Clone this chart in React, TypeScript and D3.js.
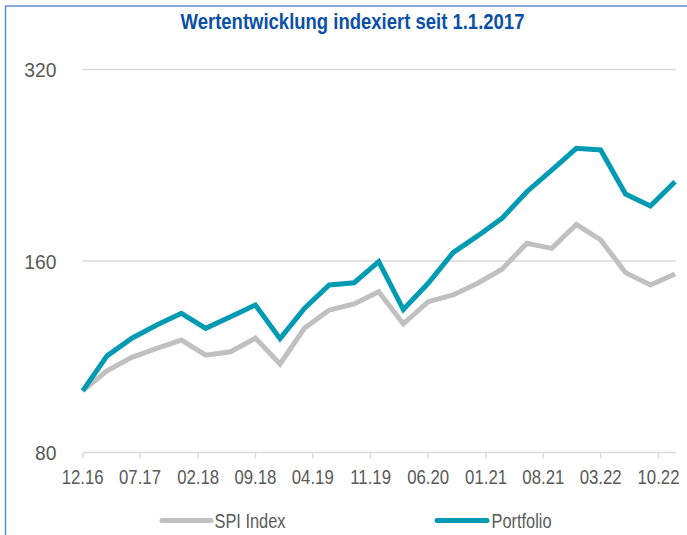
import React from "react";
import * as d3 from "d3";

const dates: string[] = [
  "2016-12", "2017-03", "2017-06", "2017-09", "2017-12", "2018-03", "2018-06", "2018-09",
  "2018-12", "2019-03", "2019-06", "2019-09", "2019-12", "2020-03", "2020-06", "2020-09",
  "2020-12", "2021-03", "2021-06", "2021-09", "2021-12", "2022-03", "2022-06", "2022-09", "2022-12",
];
const spiIndex: number[] = [
  100, 107.5, 112.9, 116.6, 120.2, 113.8, 115.2, 121, 110.2, 125.4, 134, 137, 143.2, 127.4,
  138.1, 141.5, 147.6, 155.3, 170.6, 167.5, 182.7, 172.7, 153.4, 146.7, 152.6,
];
const portfolio: number[] = [
  100, 113.5, 121, 126.9, 132.4, 125.4, 130.8, 136.4, 120.8, 134.8, 146.7, 147.9, 159.6, 134.3,
  147.6, 164.9, 175.2, 186.7, 205.6, 222.4, 240.6, 239.1, 203.9, 195.2, 213.2,
];
const yTicks: number[] = [80, 160, 320];
const xTickDates: string[] = [
  "2016-12", "2017-07", "2018-02", "2018-09", "2019-04", "2019-11", "2020-06",
  "2021-01", "2021-08", "2022-03", "2022-10",
];
const title = "Wertentwicklung indexiert seit 1.1.2017";
const seriesNames = ["SPI Index", "Portfolio"];

const parse = d3.timeParse("%Y-%m");
const fmt = d3.timeFormat("%m.%y");
const font = "'Liberation Sans', Arial, sans-serif";

function CText(props: {
  x: number; y: number; sx: number; size: number; fill: string;
  anchor?: string; weight?: string; children: React.ReactNode;
}) {
  return (
    <text
      transform={`translate(${props.x},${props.y}) scale(${props.sx},1)`}
      textAnchor={props.anchor || "start"}
      fontFamily={font}
      fontSize={props.size}
      fontWeight={props.weight || "normal"}
      fill={props.fill}
    >
      {props.children}
    </text>
  );
}

export default function App() {
  const W = 687, H = 535;
  const x = d3.scaleTime()
    .domain([parse("2016-12")!, parse("2022-12")!])
    .range([82.7, 675]);
  const y = d3.scaleLog().base(2).domain([80, 320]).range([452.5, 69.5]);
  const pts = dates.map((d) => parse(d)!);
  const line = d3.line<number>()
    .x((_, i) => x(pts[i]))
    .y((v) => y(v))
    .curve(d3.curveLinear);

  const grey = "#595959";
  const spiColor = "#c0c0c0";
  const portColor = "#009bb3";

  return (
    <svg width={W} height={H} style={{ position: "absolute", left: 0, top: 0, background: "#fff" }}>
      <line x1={5.5} y1={6} x2={5.5} y2={H} stroke="#5b8fd6" strokeWidth={1.5} />
      <line x1={5} y1={6} x2={W} y2={6} stroke="#5b8fd6" strokeWidth={1.5} />
      <CText x={352.5} y={29} sx={0.86} size={21.5} anchor="middle" weight="bold" fill="#0a50a8">
        {title}
      </CText>
      {yTicks.slice(1).map((t) => (
        <line key={t} x1={82.7} x2={676} y1={y(t)} y2={y(t)} stroke="#d9d9d9" strokeWidth={1.5} />
      ))}
      {yTicks.map((t) => (
        <CText key={"l" + t} x={56.5} y={y(t) + 7.5} sx={0.92} anchor="end" size={21} fill={grey}>
          {t}
        </CText>
      ))}
      <line x1={82.7} x2={676} y1={452.5} y2={452.5} stroke="#d9d9d9" strokeWidth={1.5} />
      {xTickDates.map((d) => {
        const xd = x(parse(d)!);
        return (
          <g key={d}>
            <line x1={xd} x2={xd} y1={452.5} y2={458.5} stroke="#d9d9d9" strokeWidth={1.5} />
            <CText x={xd} y={484} sx={0.8} anchor="middle" size={21} fill={grey}>
              {fmt(parse(d)!)}
            </CText>
          </g>
        );
      })}
      <path d={line(spiIndex) || ""} fill="none" stroke={spiColor} strokeWidth={5} strokeLinejoin="miter" />
      <path d={line(portfolio) || ""} fill="none" stroke={portColor} strokeWidth={5} strokeLinejoin="miter" />
      <line x1={162} x2={211} y1={520.5} y2={520.5} stroke={spiColor} strokeWidth={5} strokeLinecap="round" />
      <CText x={214.5} y={528} sx={0.82} size={20} fill={grey}>{seriesNames[0]}</CText>
      <line x1={437} x2={487} y1={520.5} y2={520.5} stroke={portColor} strokeWidth={5} strokeLinecap="round" />
      <CText x={491.5} y={528} sx={0.82} size={20} fill={grey}>{seriesNames[1]}</CText>
    </svg>
  );
}
